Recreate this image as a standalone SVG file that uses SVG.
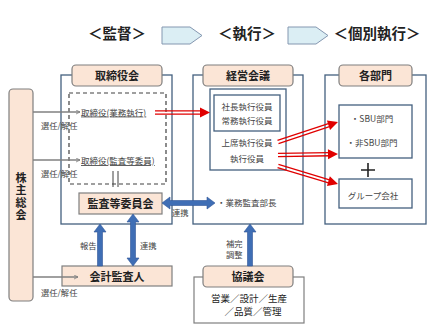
<svg xmlns="http://www.w3.org/2000/svg" width="441" height="330" viewBox="0 0 441 330">
<defs>
<style>
text{font-family:"Noto Sans CJK JP","Noto Sans CJK SC",sans-serif;fill:#222;}
.hd{font-size:14.5px;font-weight:bold;text-anchor:middle;}
.tab{fill:#fbe5d6;stroke:#7f7f7f;stroke-width:1.2;}
.tt{font-size:11px;font-weight:bold;text-anchor:middle;}
.panel{fill:#fff;stroke:#44607f;stroke-width:1.3;}
.box{fill:#fff;stroke:#44607f;stroke-width:1.3;}
.sm{font-size:8.5px;fill:#444;}
.smc{font-size:8.5px;fill:#444;text-anchor:middle;}
.lab{font-size:8.3px;fill:#444;}
.gray{stroke:#808080;stroke-width:1.6;fill:none;}
.blue{fill:#3f6eb5;stroke:#2f5597;stroke-width:0.6;}
.red{stroke:#e00000;stroke-width:1.3;fill:none;}
.redh{fill:#e00000;}
.penta{fill:#dbeef4;stroke:#8497b0;stroke-width:1;}
</style>
<marker id="chev" viewBox="0 0 10 10" refX="9" refY="5" markerWidth="5" markerHeight="5" orient="auto" markerUnits="userSpaceOnUse">
<polyline points="1,1 9,5 1,9" fill="none" stroke="#808080" stroke-width="1.6"/>
</marker>
<g id="redhead"><polygon class="redh" points="-10,-5 0,0 -10,5"/></g>
</defs>
<rect width="441" height="330" fill="#fff"/>

<!-- header -->
<g id="header">
<text class="hd" x="117" y="39">＜監督＞</text>
<polygon class="penta" points="162,27 190,27 202,35.5 190,44 162,44"/>
<text class="hd" x="247" y="39">＜執行＞</text>
<polygon class="penta" points="288,27 316,27 328,35.5 316,44 288,44"/>
<text class="hd" x="377" y="39">＜個別執行＞</text>
</g>

<!-- 株主総会 -->
<g id="shareholders">
<rect class="tab" x="9" y="89" width="24" height="212" rx="4"/>
<text class="tt" x="21" y="197" writing-mode="vertical-rl" style="writing-mode:vertical-rl;text-anchor:middle" letter-spacing="1.5">株主総会</text>
</g>

<!-- 取締役会 panel -->
<g id="board">
<rect class="panel" x="61" y="75" width="111" height="149"/>
<rect class="tab" x="72" y="65" width="90" height="21" rx="4"/>
<text class="tt" x="117" y="79.5">取締役会</text>
<rect x="69" y="93" width="97" height="91" fill="none" stroke="#404040" stroke-width="1.2" stroke-dasharray="4,3"/>
<text class="sm" x="81" y="115.5" text-decoration="underline">取締役(業務執行)</text>
<text class="sm" x="81" y="164" text-decoration="underline">取締役(監査等委員)</text>
<line x1="113" y1="171" x2="113" y2="187" stroke="#404040" stroke-width="1"/>
<line x1="118" y1="171" x2="118" y2="187" stroke="#404040" stroke-width="1"/>
</g>

<g id="audit-committee">
<rect class="tab" x="79" y="193" width="83" height="21"/>
<text class="tt" x="120.5" y="207.5">監査等委員会</text>
</g>

<g id="accounting-auditor">
<rect class="tab" x="62" y="266" width="110" height="20"/>
<text class="tt" x="117" y="280.5">会計監査人</text>
</g>

<!-- 経営会議 panel -->
<g id="management">
<rect class="panel" x="193" y="75" width="110" height="149"/>
<rect class="tab" x="203" y="65" width="90" height="21" rx="4"/>
<text class="tt" x="248" y="79.5">経営会議</text>
<rect class="box" x="210" y="89" width="76" height="81"/>
<rect class="box" x="214" y="95" width="66" height="36"/>
<text class="smc" x="247" y="110">社長執行役員</text>
<text class="smc" x="247" y="124">常務執行役員</text>
<text class="smc" x="247" y="146">上席執行役員</text>
<text class="smc" x="247" y="162">執行役員</text>
<text class="sm" x="217" y="206">・業務監査部長</text>
</g>

<!-- 各部門 panel -->
<g id="departments">
<rect class="panel" x="325" y="75" width="101" height="149"/>
<rect class="tab" x="339" y="65" width="73" height="21" rx="4"/>
<text class="tt" x="375.5" y="79.5">各部門</text>
<rect class="box" x="339" y="105" width="73" height="53"/>
<text class="smc" x="372" y="122">・SBU部門</text>
<text class="smc" x="372" y="146">・非SBU部門</text>
<path d="M368,163 V177 M361,170 H375" stroke="#222" stroke-width="1.6"/>
<rect class="box" x="339" y="179" width="73" height="29"/>
<text class="smc" x="373" y="199">グループ会社</text>
</g>

<!-- 協議会 -->
<g id="council">
<rect x="194" y="277" width="110" height="46" fill="#fff" stroke="#7f7f7f" stroke-width="1.2"/>
<rect class="tab" x="203" y="266" width="90" height="21" rx="4"/>
<text class="tt" x="248" y="280.5">協議会</text>
<text x="249" y="302" font-size="9.5" fill="#444" text-anchor="middle">営業／設計／生産</text>
<text x="253" y="315" font-size="9.5" fill="#444" text-anchor="middle">／品質／管理</text>
</g>

<!-- connectors -->
<g id="connectors">
<line class="gray" x1="33" y1="112" x2="80" y2="112" marker-end="url(#chev)"/>
<line class="gray" x1="33" y1="160" x2="80" y2="160" marker-end="url(#chev)"/>
<line class="gray" x1="33" y1="277" x2="78" y2="277" marker-end="url(#chev)"/>
<text class="lab" x="41" y="129">選任/解任</text>
<text class="lab" x="41" y="177">選任/解任</text>
<text class="lab" x="41" y="296">選任/解任</text>

<!-- red double arrows -->
<g transform="translate(155,112.5)">
<line class="red" x1="0" y1="-1.6" x2="47" y2="-1.6"/>
<line class="red" x1="0" y1="1.6" x2="47" y2="1.6"/>
<use href="#redhead" x="55" y="0"/>
</g>
<g transform="translate(278,142) rotate(-18.43)">
<line class="red" x1="0" y1="-1.6" x2="56" y2="-1.6"/>
<line class="red" x1="0" y1="1.6" x2="56" y2="1.6"/>
<use href="#redhead" x="63.2" y="0"/>
</g>
<g transform="translate(278,155) rotate(-0.95)">
<line class="red" x1="0" y1="-1.6" x2="52" y2="-1.6"/>
<line class="red" x1="0" y1="1.6" x2="52" y2="1.6"/>
<use href="#redhead" x="60" y="0"/>
</g>
<g transform="translate(278,166) rotate(16.7)">
<line class="red" x1="0" y1="-1.6" x2="55" y2="-1.6"/>
<line class="red" x1="0" y1="1.6" x2="55" y2="1.6"/>
<use href="#redhead" x="62.6" y="0"/>
</g>

<!-- blue arrows -->
<polygon class="blue" points="162,203 170,197 170,200.5 207,200.5 207,197 215,203 207,209 207,205.5 170,205.5 170,209"/>
<text class="lab" x="172" y="216">連携</text>
<polygon class="blue" points="100,224 106,232 102.5,232 102.5,266 97.5,266 97.5,232 94,232"/>
<polygon class="blue" points="133,214 139,222 135.5,222 135.5,258 139,258 133,266 127,258 130.5,258 130.5,222 127,222"/>
<text class="lab" x="80" y="249">報告</text>
<text class="lab" x="140" y="249">連携</text>
<polygon class="blue" points="250,224 256,232 252.5,232 252.5,266 247.5,266 247.5,232 244,232"/>
<text class="lab" x="226" y="247">補完</text>
<text class="lab" x="226" y="258">調整</text>
</g>
</svg>
